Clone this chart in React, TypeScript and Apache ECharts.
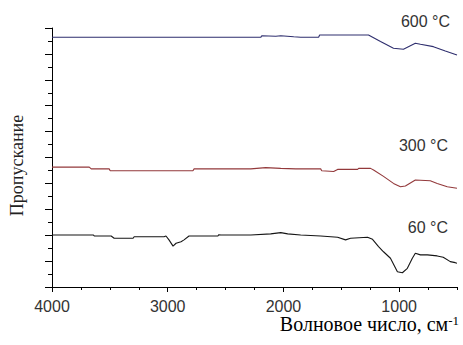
import React, { useEffect, useRef } from "react";
import * as echarts from "echarts";

// 600 °C (blue)
const wave600 = [4000, 2196, 2187, 2066, 2023, 1911, 1851, 1696, 1687, 1265, 1161, 1049, 963, 860, 816, 704, 601, 500];
const trans600 = [9.64, 9.64, 9.70, 9.68, 9.70, 9.66, 9.64, 9.64, 9.73, 9.73, 9.48, 9.22, 9.18, 9.41, 9.37, 9.28, 9.11, 8.96];

// 300 °C (red)
const wave300 = [4000, 3678, 3661, 3506, 3497, 2782, 2772, 2282, 2153, 2023, 1893, 1678, 1669, 1566, 1532, 1359, 1350, 1247, 1221, 1135, 1049, 989, 946, 860, 731, 671, 584, 500];
const trans300 = [4.63, 4.63, 4.56, 4.56, 4.49, 4.49, 4.56, 4.56, 4.61, 4.58, 4.56, 4.56, 4.49, 4.46, 4.54, 4.54, 4.58, 4.58, 4.52, 4.27, 4.00, 3.87, 3.90, 4.13, 4.10, 4.00, 3.87, 3.81];

// 60 °C (black)
const wave60 = [4000, 3644, 3635, 3489, 3463, 3299, 3290, 3032, 3015, 2989, 2954, 2928, 2885, 2859, 2816, 2566, 2558, 2540, 2282, 2110, 2023, 1963, 1851, 1678, 1532, 1463, 1420, 1273, 1230, 1178, 1135, 1075, 1015, 972, 929, 886, 860, 816, 756, 671, 619, 558, 515, 500];
const trans60 = [2.01, 2.01, 1.97, 1.97, 1.88, 1.88, 1.94, 1.94, 1.97, 1.82, 1.58, 1.69, 1.75, 1.82, 1.97, 1.97, 2.02, 2.01, 2.01, 2.05, 2.10, 2.05, 2.01, 1.97, 1.92, 1.82, 1.88, 1.92, 1.84, 1.56, 1.36, 1.11, 0.59, 0.55, 0.72, 1.11, 1.30, 1.24, 1.24, 1.20, 1.15, 0.98, 0.94, 0.92];

const majorTicks = [4000, 3000, 2000, 1000];
const seriesNames = ["600 °C", "300 °C", "60 °C"];
const seriesColors = ["#2e2e6e", "#93393b", "#151515"];

const zip = (xs: number[], ys: number[]) => xs.map((x, i) => [x, ys[i]]);

export default function App() {
  const ref = useRef<HTMLDivElement>(null);
  useEffect(() => {
    if (!ref.current) return;
    const chart = echarts.init(ref.current, null, { renderer: "svg" });
    const datasets = [zip(wave600, trans600), zip(wave300, trans300), zip(wave60, trans60)];
    const tempLabel = (i: number, x: number, y: number) => ({
      type: "text",
      x,
      y,
      style: {
        text: seriesNames[i],
        align: "right",
        verticalAlign: "middle",
        fontFamily: "Liberation Sans",
        fontSize: 16,
        fill: "#333",
      },
    });
    chart.setOption({
      animation: false,
      backgroundColor: "#ffffff",
      grid: { left: 51, right: 6, top: 28, bottom: 58 },
      xAxis: [
        {
          type: "value",
          min: 500,
          max: 4000,
          inverse: true,
          axisLine: { show: true, lineStyle: { color: "#000", width: 1 } },
          axisTick: { show: true, customValues: majorTicks, length: 5, lineStyle: { color: "#000" } },
          axisLabel: {
            show: true,
            customValues: majorTicks,
            formatter: (v: number) => String(v),
            margin: 11,
            fontSize: 16,
            color: "#333",
            fontFamily: "Liberation Sans",
          },
          splitLine: { show: false },
        },
        {
          type: "value",
          min: 500,
          max: 4000,
          interval: 250,
          inverse: true,
          position: "bottom",
          axisLine: { show: false },
          axisTick: { show: true, length: 3, lineStyle: { color: "#000" } },
          axisLabel: { show: false },
          splitLine: { show: false },
        },
      ],
      yAxis: {
        type: "value",
        min: 0,
        max: 10,
        interval: 1,
        name: "Пропускание",
        nameLocation: "middle",
        nameRotate: 90,
        nameGap: 26,
        nameTextStyle: { fontFamily: "Liberation Serif", fontSize: 18, color: "#222", padding: [0, 16, 0, 0] },
        axisLine: { show: true, lineStyle: { color: "#000", width: 1 } },
        axisTick: { show: true, length: 7, lineStyle: { color: "#000" } },
        minorTick: { show: true, splitNumber: 2, length: 4, lineStyle: { color: "#000" } },
        axisLabel: { show: false },
        splitLine: { show: false },
      },
      graphic: [
        {
          type: "text",
          right: 4,
          top: 314,
          style: {
            text: "{m|Волновое число, см}{s|-1}",
            rich: {
              m: { fontFamily: "Liberation Serif", fontSize: 20, color: "#222" },
              s: { fontFamily: "Liberation Serif", fontSize: 13, color: "#222", verticalAlign: "top" },
            },
          },
        },
        tempLabel(0, 450, 21),
        tempLabel(1, 448, 145),
        tempLabel(2, 448, 227),
      ],
      series: datasets.map((d, i) => ({
        type: "line",
        name: seriesNames[i],
        xAxisIndex: 0,
        data: d,
        showSymbol: false,
        symbol: "none",
        lineStyle: { color: seriesColors[i], width: 1.1 },
      })),
    });
    return () => chart.dispose();
  }, []);
  return (
    <div
      ref={ref}
      style={{ position: "fixed", left: 0, top: 0, width: 463, height: 345, background: "#fff" }}
    />
  );
}
